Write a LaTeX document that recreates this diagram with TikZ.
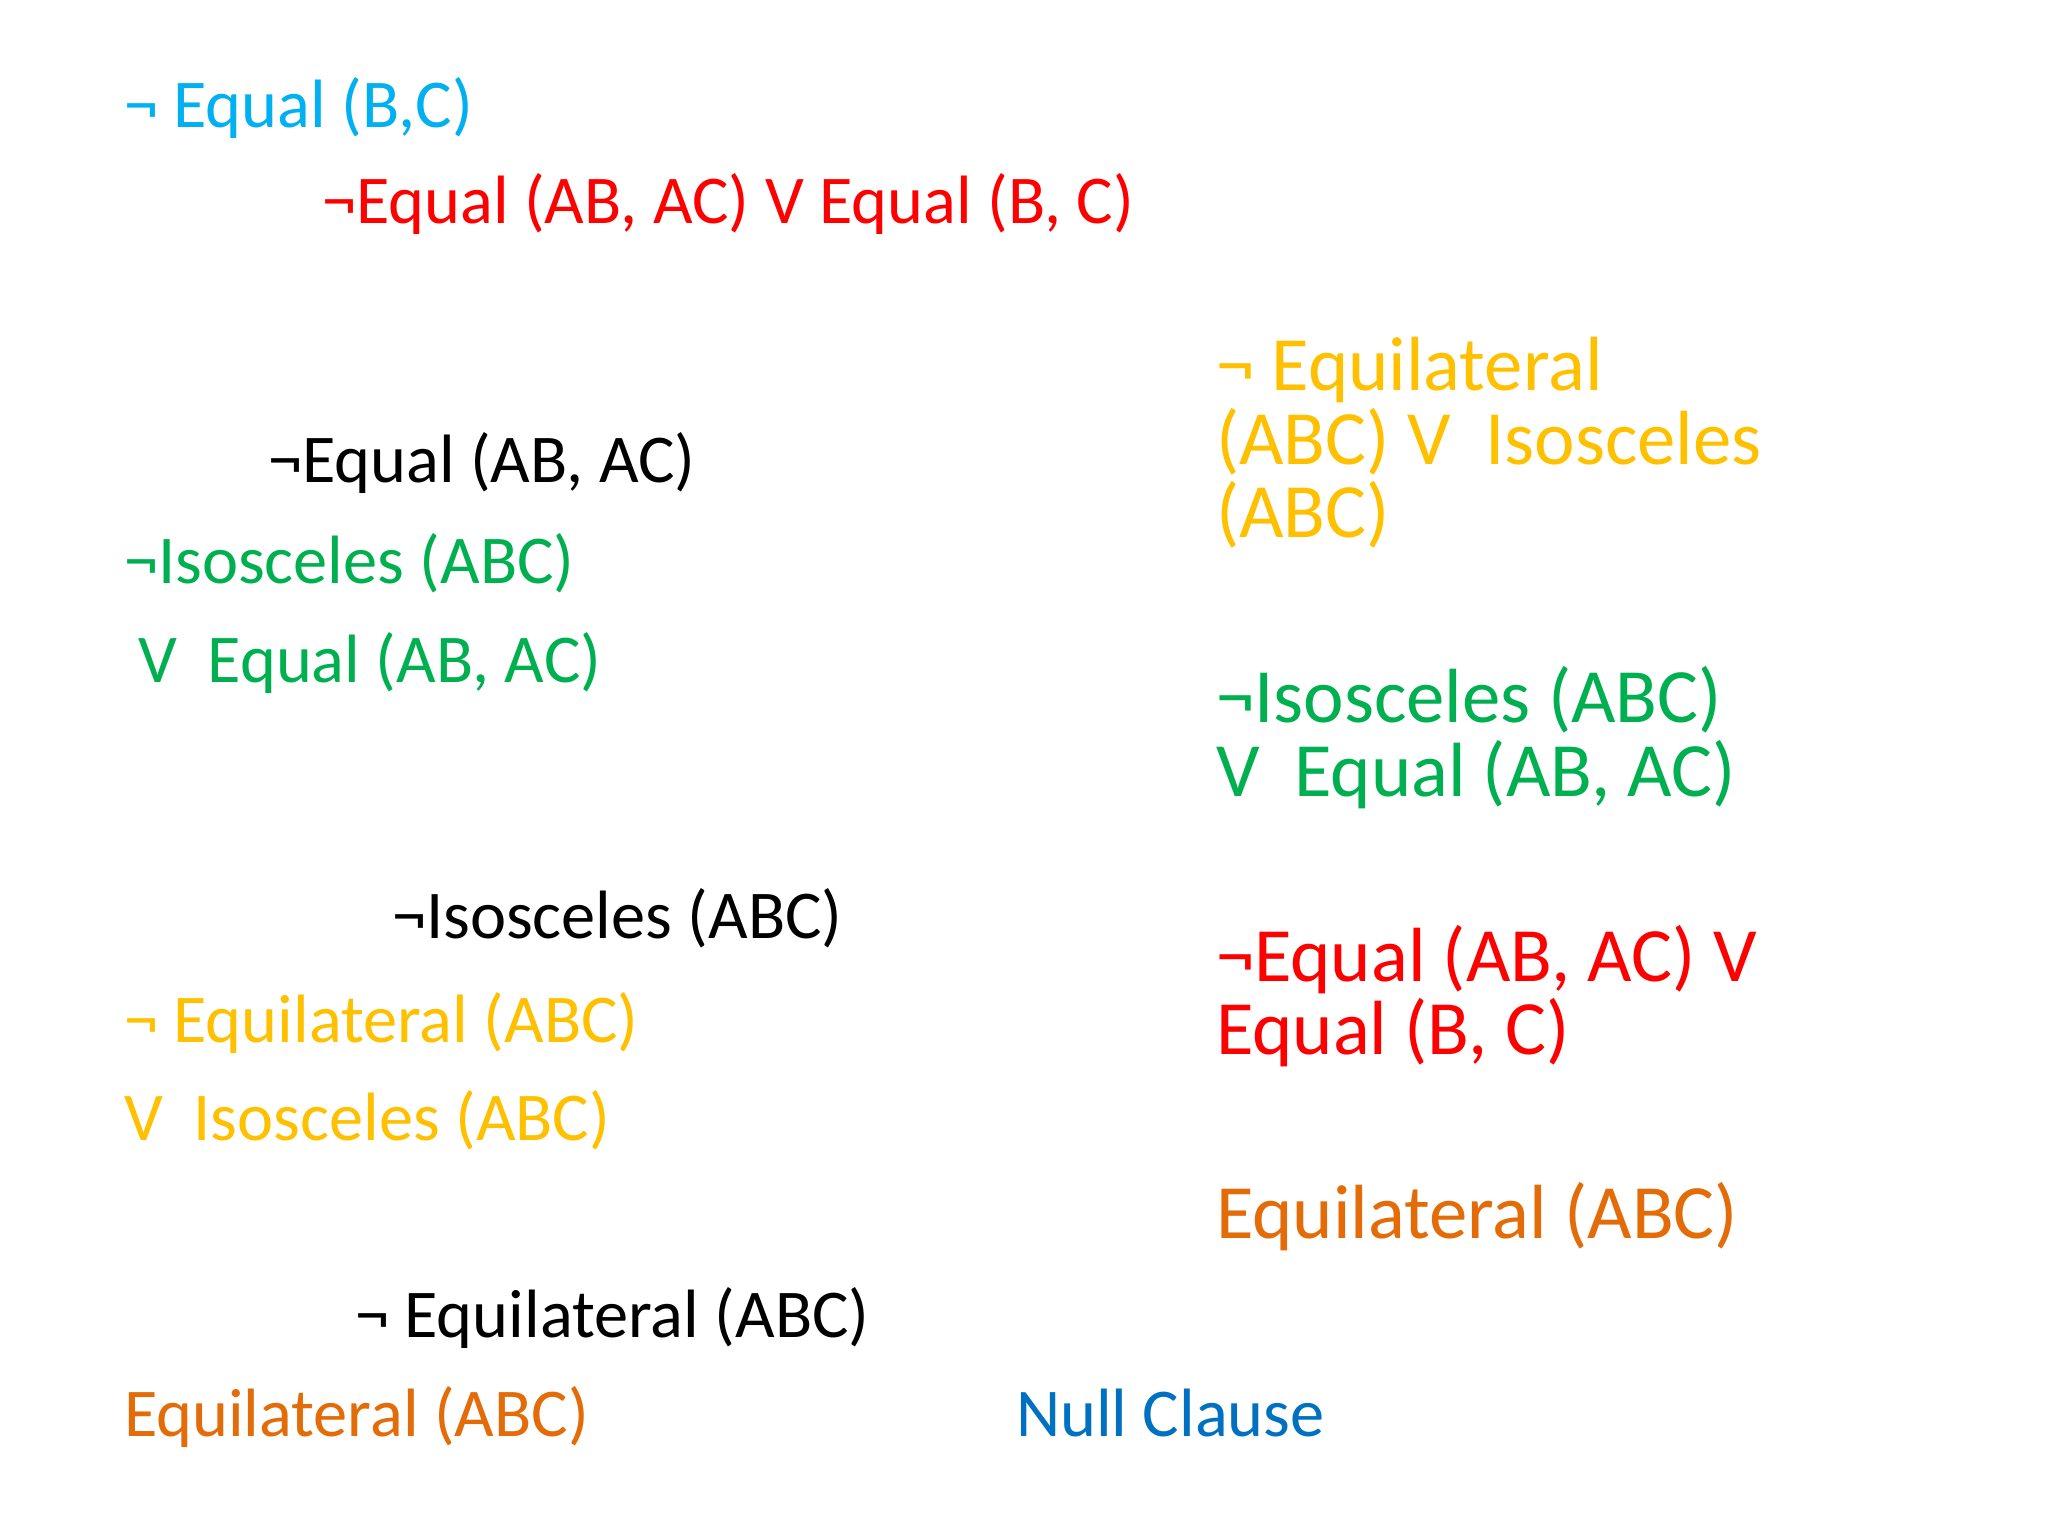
\documentclass[tikz,border=0pt]{standalone}
\usepackage{fontspec}
\setmainfont{Carlito}
\definecolor{lblue}{HTML}{00B0F0}
\definecolor{cred}{HTML}{FF0000}
\definecolor{cgreen}{HTML}{00B050}
\definecolor{cyellow}{HTML}{FFC000}
\definecolor{corange}{HTML}{E36C09}
\definecolor{cblue}{HTML}{0070C0}
\begin{document}
\begin{tikzpicture}[x=0.5pt,y=-0.5pt,
  every node/.style={inner sep=0pt, outer sep=0pt, anchor=base west},
  lft/.style={font=\fontsize{34.2}{40}\selectfont},
  rgt/.style={font=\fontsize{38.4}{46}\selectfont}]
\useasboundingbox (0,0) rectangle (2048,1536);
\fill[white] (0,0) rectangle (2048,1536);
% left column
\node[lft, text=lblue] (n1) at (124,127) {¬ Equal (B,C)};
\node[lft, text=cred] (n2) at (322,223) {¬Equal (AB, AC) V Equal (B, C)};
\node[lft, text=black] (n3) at (268,482) {¬Equal (AB, AC)};
\node[lft, text=cgreen] (n4) at (124,583) {¬Isosceles (ABC)};
\node[lft, text=cgreen] (n5) at (138,682) {V\ \ Equal (AB, AC)};
\node[lft, text=black] (n6) at (392,938) {¬Isosceles (ABC)};
\node[lft, text=cyellow] (n7) at (124,1042) {¬ Equilateral (ABC)};
\node[lft, text=cyellow] (n8) at (124,1140) {V\ \ Isosceles (ABC)};
\node[lft, text=black] (n9) at (355,1337) {¬ Equilateral (ABC)};
\node[lft, text=corange] (n10) at (124,1436) {Equilateral (ABC)};
\node[lft, text=cblue] (n11) at (1016,1436) {Null Clause};
% right column
\node[rgt, text=cyellow] (r1a) at (1216,390) {¬ Equilateral};
\node[rgt, text=cyellow] (r1b) at (1216,464) {(ABC) V\ \ Isosceles};
\node[rgt, text=cyellow] (r1c) at (1216,537) {(ABC)};
\node[rgt, text=cgreen] (r2a) at (1216,722) {¬Isosceles (ABC)};
\node[rgt, text=cgreen] (r2b) at (1216,796) {V\ \ Equal (AB, AC)};
\node[rgt, text=cred] (r3a) at (1216,981) {¬Equal (AB, AC) V};
\node[rgt, text=cred] (r3b) at (1216,1054) {Equal (B, C)};
\node[rgt, text=corange] (r4) at (1216,1238) {Equilateral (ABC)};
\end{tikzpicture}
\end{document}
